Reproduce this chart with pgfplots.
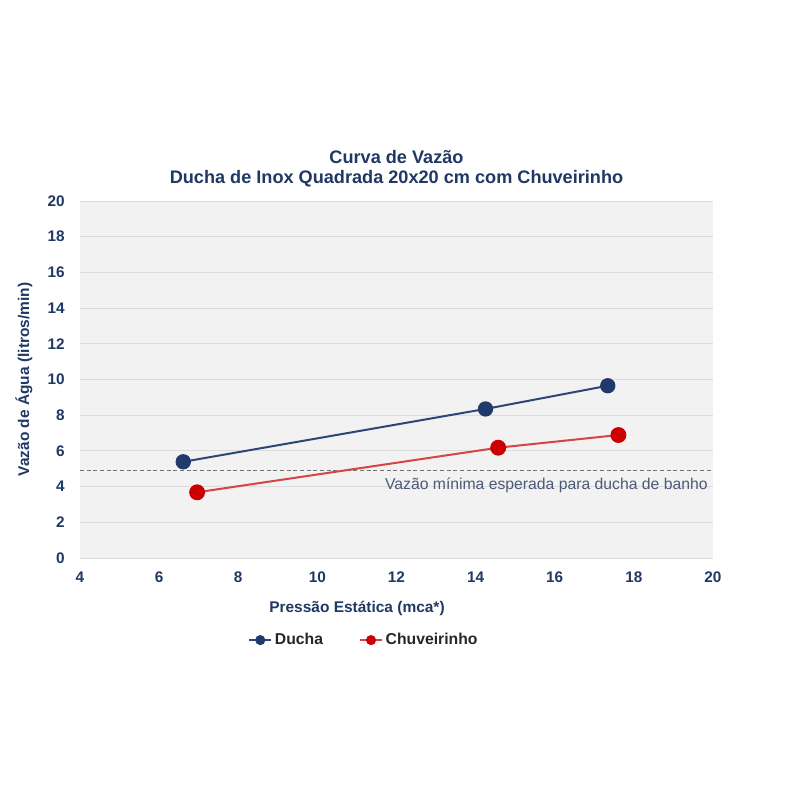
\documentclass[border=0pt]{standalone}
\usepackage{pgfplots}
\pgfplotsset{compat=1.18}
\usepackage{fontspec}
\setmainfont{Liberation Sans}
\definecolor{navy}{HTML}{1F3864}
\definecolor{ducha}{HTML}{2E4677}
\definecolor{duchaM}{HTML}{1F3A6B}
\definecolor{chuv}{HTML}{D44545}
\definecolor{chuvM}{HTML}{CC0000}
\definecolor{bg}{HTML}{F2F2F2}
\definecolor{gridc}{HTML}{DCDCDC}
\definecolor{annot}{HTML}{4B5A78}
\begin{document}
\begin{tikzpicture}
\useasboundingbox (0,0) rectangle (600.75pt,600.75pt);
\begin{axis}[
 at={(60pt,182.25pt)}, anchor=south west,
 scale only axis, width=474.75pt, height=267.75pt,
 xmin=4, xmax=20, ymin=0, ymax=20,
 xtick={4,6,...,20}, ytick={0,2,...,20},
 axis line style={draw=none},
 major tick length=0pt,
 axis background/.style={fill=bg},
 ymajorgrids, grid style={gridc, line width=0.6pt},
 /pgf/number format/assume math mode=true,
 ticklabel style={font=\fontsize{11.5}{13}\selectfont\bfseries, text=navy},
 xticklabel style={anchor=center, yshift=-14.25pt},
 yticklabel style={anchor=east, inner sep=0pt, xshift=-11.25pt},
 title={Curva de Vazão\\Ducha de Inox Quadrada 20x20 cm com Chuveirinho},
 title style={at={(0.5,1.067)}, anchor=center, align=center, font=\fontsize{13.6}{15}\selectfont\bfseries, text=navy},
 xlabel={Pressão Estática (mca*)},
 xlabel style={at={(axis description cs:0.4376,-0.14)}, anchor=center, font=\fontsize{11.6}{13}\selectfont\bfseries, text=navy},
 ylabel={Vazão de Água (litros/min)},
 ylabel style={at={(axis description cs:-0.0885,0.5)}, anchor=center, font=\fontsize{11.6}{13}\selectfont\bfseries, text=navy},
 legend style={at={(0.449,-0.23)}, anchor=center, draw=none, fill=none, font=\fontsize{11.8}{13}\selectfont\bfseries, text=black!85, /tikz/every even column/.append style={column sep=25pt}},
 legend columns=2,
]
\addplot[densely dashed, color=black!55, line width=0.6pt, forget plot] coordinates {(4,4.9) (20,4.9)};
\addplot[ducha, line width=1.5pt, mark=*, mark size=5pt, mark options={fill=duchaM, draw=duchaM},
 legend image code/.code={\draw[ducha, line width=1.5pt] (0pt,0pt) -- (16.5pt,0pt); \fill[duchaM] (8.25pt,0pt) circle (3pt);}]
 coordinates {(6.61,5.39) (14.25,8.35) (17.34,9.65)};
\addlegendentry{Ducha}
\addplot[chuv, line width=1.5pt, mark=*, mark size=5.2pt, mark options={fill=chuvM, draw=chuvM},
 legend image code/.code={\draw[chuv, line width=1.5pt] (0pt,0pt) -- (16.5pt,0pt); \fill[chuvM] (8.25pt,0pt) circle (3pt);}]
 coordinates {(6.96,3.68) (14.57,6.18) (17.61,6.89)};
\addlegendentry{Chuveirinho}
\node[anchor=base east, inner sep=0pt, font=\fontsize{11.8}{13}\selectfont, text=annot] at (axis cs:19.87,4.9) [yshift=-14.25pt] {Vazão mínima esperada para ducha de banho};
\end{axis}
\end{tikzpicture}
\end{document}
